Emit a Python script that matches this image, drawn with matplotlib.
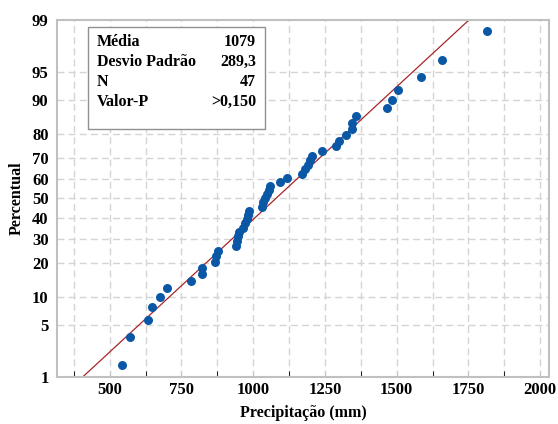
import matplotlib
matplotlib.use('Agg')
import matplotlib.pyplot as plt
import numpy as np
from statistics import NormalDist

# precipitation values (mm), sorted
precip = [542, 572, 634, 646, 674, 700, 784, 822, 822, 866,
          872, 879, 940, 944, 948, 950, 966, 972, 978, 982,
          986, 1030, 1035, 1042, 1048, 1055, 1060, 1095, 1117, 1170,
          1182, 1190, 1198, 1205, 1240, 1290, 1300, 1322, 1343, 1345,
          1357, 1467, 1485, 1503, 1586, 1659, 1815]
media = 1079
desvio = 289.3
pct_ticks = [1, 5, 10, 20, 30, 40, 50, 60, 70, 80, 90, 95, 99]
x_ticks = [500, 750, 1000, 1250, 1500, 1750, 2000]

nd = NormalDist()
n = len(precip)
# median ranks (Benard)
z_pts = [nd.inv_cdf((i - 0.3) / (n + 0.4)) for i in range(1, n + 1)]

plt.rcParams['font.family'] = ['Liberation Serif', 'DejaVu Serif']
plt.rcParams['font.weight'] = 'bold'

fig = plt.figure(figsize=(5.58, 4.24), dpi=100)
ax = fig.add_axes([0.102, 0.111, 0.882, 0.842])

# grid
for xv in np.arange(375, 2001, 125):
    ax.axvline(xv, color='#d4d4d4', ls=(0, (5, 3)), lw=1.0, zorder=0)
for p in pct_ticks[1:-1]:
    ax.axhline(nd.inv_cdf(p / 100), color='#d4d4d4', ls=(0, (5, 3)), lw=1.0, zorder=0)

# fitted line
zz = np.array([-3.0, 3.0])
ax.plot(media + desvio * zz, zz, color='#a8262a', lw=0.9, zorder=2)

ax.scatter(precip, z_pts, s=42, color='#0a57a6', zorder=3, linewidths=0)

ax.set_xlim(316, 2031)
ax.set_ylim(nd.inv_cdf(0.01), nd.inv_cdf(0.99))
ax.set_xticks(x_ticks)
ax.set_xticks(np.arange(375, 2001, 125), minor=True)
ax.set_yticks([nd.inv_cdf(p / 100) for p in pct_ticks])
ax.set_yticklabels([str(p) for p in pct_ticks])
ax.tick_params(axis='both', labelsize=12, colors='#c8c8c8', labelcolor='black')
ax.tick_params(axis='x', which='both', direction='in', length=4)
ax.tick_params(axis='y', length=0, pad=6)
for lab in ax.get_xticklabels() + ax.get_yticklabels():
    lab.set_fontweight('bold')
for s in ax.spines.values():
    s.set_color('#c0c0c0')
    s.set_linewidth(1.5)

ax.set_xlabel('Precipitação (mm)', fontsize=11.5, fontweight='bold', labelpad=5)
ax.set_ylabel('Percentual', fontsize=11.5, fontweight='bold', labelpad=5)

# stats box
rows = [('Média', '1079'), ('Desvio Padrão', '289,3'), ('N', '47'), ('Valor-P', '>0,150')]
box = plt.Rectangle((88 / 558, 1 - 129 / 424), 177 / 558, 102 / 424,
                    transform=fig.transFigure, fill=True, facecolor='white',
                    edgecolor='#909090', lw=1.0, zorder=5)
fig.patches.append(box)
for k, (a, b) in enumerate(rows):
    yy = 1 - (42 + k * 20) / 424
    fig.text(97 / 558, yy, a, fontsize=11.5, fontweight='bold', va='center', ha='left', zorder=6)
    fig.text(256 / 558, yy, b, fontsize=11.5, fontweight='bold', va='center', ha='right', zorder=6)

fig.savefig('out.png', dpi=100)
